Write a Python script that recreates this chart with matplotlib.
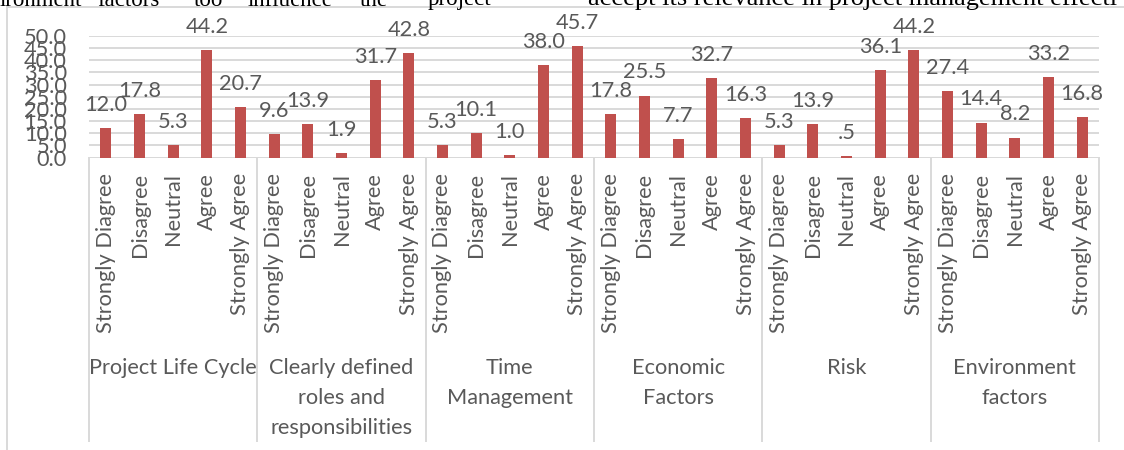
import matplotlib
matplotlib.use("Agg")
import matplotlib.pyplot as plt
from matplotlib.lines import Line2D

# ---------------- data ----------------
groups = [
    ["Project Life Cycle"],
    ["Clearly defined", "roles and", "responsibilities"],
    ["Time", "Management"],
    ["Economic", "Factors"],
    ["Risk"],
    ["Environment", "factors"],
]
responses = ["Strongly Diagree", "Disagree", "Neutral", "Agree", "Strongly Agree"]
project_life_cycle = [12.0, 17.8, 5.3, 44.2, 20.7]
clearly_defined_roles = [9.6, 13.9, 1.9, 31.7, 42.8]
time_management = [5.3, 10.1, 1.0, 38.0, 45.7]
economic_factors = [17.8, 25.5, 7.7, 32.7, 16.3]
risk = [5.3, 13.9, 0.5, 36.1, 44.2]
environment_factors = [27.4, 14.4, 8.2, 33.2, 16.8]
series = [project_life_cycle, clearly_defined_roles, time_management,
          economic_factors, risk, environment_factors]
y_ticks = [0, 5, 10, 15, 20, 25, 30, 35, 40, 45, 50]
top_words = ["ironment", "factors", "too", "influence", "the", "project",
             "accept its relevance in project management effecti"]

# ---------------- style ----------------
W, H = 1124, 450
BAR = "#C0504D"
TXT = "#595959"
GRID = "#D9D9D9"
FONT = "Lato"
FS = 15.7

fig = plt.figure(figsize=(W / 100, H / 100), dpi=100)
x0, x1 = 89, 1099
y_top, y_zero = 36, 157.5
ax = fig.add_axes([x0 / W, 1 - y_zero / H, (x1 - x0) / W, (y_zero - y_top) / H])

values = [v for s in series for v in s]
labels = [r for _ in series for r in responses]
xs = list(range(len(values)))
ax.bar(xs, values, width=0.32, color=BAR, zorder=3)
ax.set_xlim(-0.5, len(values) - 0.5)
ax.set_ylim(0, 50)

for x, v in zip(xs, values):
    s = f"{v:.1f}"
    if s.startswith("0."):
        s = s[1:]
    ax.annotate(s, (x, v), xytext=(0, 12.3), textcoords="offset points",
                ha="center", va="baseline", fontsize=FS, family=FONT,
                color=TXT, annotation_clip=False, zorder=4)

ax.set_yticks(y_ticks)
ax.set_yticklabels([f"{t:.1f}" for t in y_ticks], family=FONT, fontsize=FS, color=TXT)
ax.tick_params(axis="y", length=0, pad=16)
ax.set_xticks(xs)
ax.set_xticklabels(labels, rotation=90, family=FONT, fontsize=FS, color=TXT,
                   ha="center", va="top")
ax.tick_params(axis="x", length=0, pad=11)
ax.grid(axis="y", color=GRID, lw=1.4, zorder=0)
for sp in ax.spines.values():
    sp.set_visible(False)
ax.axhline(0, color=GRID, lw=1.4, zorder=2)

# group separators and group labels
n = len(responses)
for g in range(len(groups) + 1):
    xd = g * n - 0.5
    xf = ax.transData.transform((xd, 0))[0] / W
    fig.add_artist(Line2D([xf, xf], [1 - 158 / H, 1 - 441 / H], color=GRID, lw=1.4))
for g, lines in enumerate(groups):
    xc = g * n + (n - 1) / 2
    xf = ax.transData.transform((xc, 0))[0] / W
    for i, line in enumerate(lines):
        fig.text(xf, 1 - (368 + 30 * i) / H, line, ha="center", va="center",
                 family=FONT, fontsize=FS, color=TXT)

# chart border (top and left)
fig.add_artist(Line2D([7 / W, 1], [1 - 7 / H, 1 - 7 / H], color=GRID, lw=1.4))
fig.add_artist(Line2D([7 / W, 7 / W], [0, 1 - 7 / H], color=GRID, lw=1.4))

# partial document text above the chart
word_x = [0, 97, 194, 248, 360, 428, 588]
word_fs = [16.5, 16.5, 16.5, 16.5, 16.5, 16.5, 19.0]
for wx, wd, wf in zip(word_x, top_words, word_fs):
    fig.text(wx / W, 1 - 5.5 / H, wd, ha="left", va="baseline",
             family="Liberation Serif", fontsize=wf, color="black")

fig.savefig("out.png", dpi=100)
